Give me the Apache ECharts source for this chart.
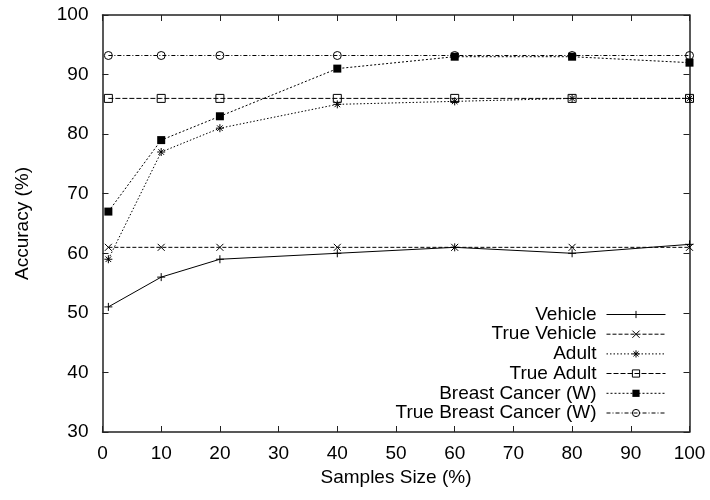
<!DOCTYPE html>
<html>
<head>
<meta charset="utf-8">
<script src="https://cdn.jsdelivr.net/npm/echarts@6/dist/echarts.min.js"></script>
<style>
  html, body { margin: 0; padding: 0; background: #fff; }
  #chart { width: 710px; height: 500px; }
</style>
</head>
<body>
<div id="chart"></div>
<script>
// Sample sizes (%) at which accuracy was measured
const sampleSizes = [1, 10, 20, 40, 60, 80, 100];

// Accuracy (%) per dataset
const vehicle      = [51, 56, 59, 60, 61, 60, 61.5];
const trueVehicle  = [61, 61, 61, 61, 61, 61, 61];
const adult        = [59, 77, 81, 85, 85.5, 86, 86];
const trueAdult    = [86, 86, 86, 86, 86, 86, 86];
const breast       = [67, 79, 83, 91, 93, 93, 92];
const trueBreast   = [93.2, 93.2, 93.2, 93.2, 93.2, 93.2, 93.2];

const seriesNames = ['Vehicle', 'True Vehicle', 'Adult', 'True Adult',
                     'Breast Cancer (W)', 'True Breast Cancer (W)'];

const FONT = "'Liberation Sans', Arial, Helvetica, sans-serif";

// Stroke-only marker shapes
const PLUS = 'path://M0,5L10,5M5,0L5,10';
const CROSS = 'path://M0,0L10,10M10,0L0,10';
const STAR = 'path://M0,5L10,5M5,0L5,10M1.5,1.5L8.5,8.5M8.5,1.5L1.5,8.5';

const pairs = vals => sampleSizes.map((x, i) => [x, vals[i]]);

function lineSeries(name, vals, symbol, size, dash, filled) {
  return {
    name: name,
    type: 'line',
    data: pairs(vals),
    symbol: symbol,
    symbolSize: size,
    showAllSymbol: true,
    animation: false,
    lineStyle: { color: '#000', width: 1, type: dash },
    itemStyle: filled
      ? { color: '#000', borderWidth: 0 }
      : { color: 'none', borderColor: '#000', borderWidth: 1 },
    emphasis: { disabled: true }
  };
}

const series = [
  lineSeries(seriesNames[0], vehicle, PLUS, 8, 'solid', false),
  lineSeries(seriesNames[1], trueVehicle, CROSS, 7, [4, 2], false),
  lineSeries(seriesNames[2], adult, STAR, 8, [1.5, 2], false),
  lineSeries(seriesNames[3], trueAdult, 'rect', 8, [5, 2], false),
  lineSeries(seriesNames[4], breast, 'rect', 8, [2, 2], true),
  lineSeries(seriesNames[5], trueBreast, 'circle', 8, [4, 2, 1, 2], false)
];

// One legend block per entry, right-aligned so the samples line up
const legendRowTop = [305, 324.7, 344.4, 364, 383.8, 403.5];
const legends = seriesNames.map((name, i) => ({
  data: [name],
  right: 44,
  top: legendRowTop[i],
  align: 'right',
  padding: 0,
  itemWidth: 59,
  itemHeight: 9,
  selectedMode: false,
  lineStyle: { width: 1 },
  itemStyle: { borderWidth: 1 },
  textStyle: { fontFamily: FONT, fontSize: 19, color: '#000', padding: [0, 5, 0, 0] }
}));

const axisCommon = {
  type: 'value',
  axisLine: { show: true, onZero: false, lineStyle: { color: '#222', width: 1.5 } },
  axisTick: { show: true, inside: true, length: 6, lineStyle: { color: '#222', width: 1 } },
  splitLine: { show: false }
};

const option = {
  backgroundColor: '#fff',
  animation: false,
  textStyle: { fontFamily: FONT },
  grid: { left: 102.5, right: 20.5, top: 15, bottom: 68, containLabel: false },
  legend: legends,
  xAxis: [
    Object.assign({}, axisCommon, {
      position: 'bottom', min: 0, max: 100, interval: 10,
      name: 'Samples Size (%)', nameLocation: 'middle', nameGap: 33,
      nameTextStyle: { fontFamily: FONT, fontSize: 19, color: '#000' },
      axisLabel: { fontFamily: FONT, fontSize: 19, color: '#000', margin: 12 }
    }),
    Object.assign({}, axisCommon, {
      position: 'top', min: 0, max: 100, interval: 10,
      axisLabel: { show: false }
    })
  ],
  yAxis: [
    Object.assign({}, axisCommon, {
      position: 'left', min: 30, max: 100, interval: 10,
      name: 'Accuracy (%)', nameLocation: 'middle', nameGap: 70, nameRotate: 90,
      nameTextStyle: { fontFamily: FONT, fontSize: 19, color: '#000' },
      axisLabel: { fontFamily: FONT, fontSize: 19, color: '#000', margin: 14 }
    }),
    Object.assign({}, axisCommon, {
      position: 'right', min: 30, max: 100, interval: 10,
      axisLabel: { show: false }
    })
  ],
  series: series
};

const chart = echarts.init(document.getElementById('chart'), null, { renderer: 'canvas' });
chart.setOption(option);
</script>
</body>
</html>
